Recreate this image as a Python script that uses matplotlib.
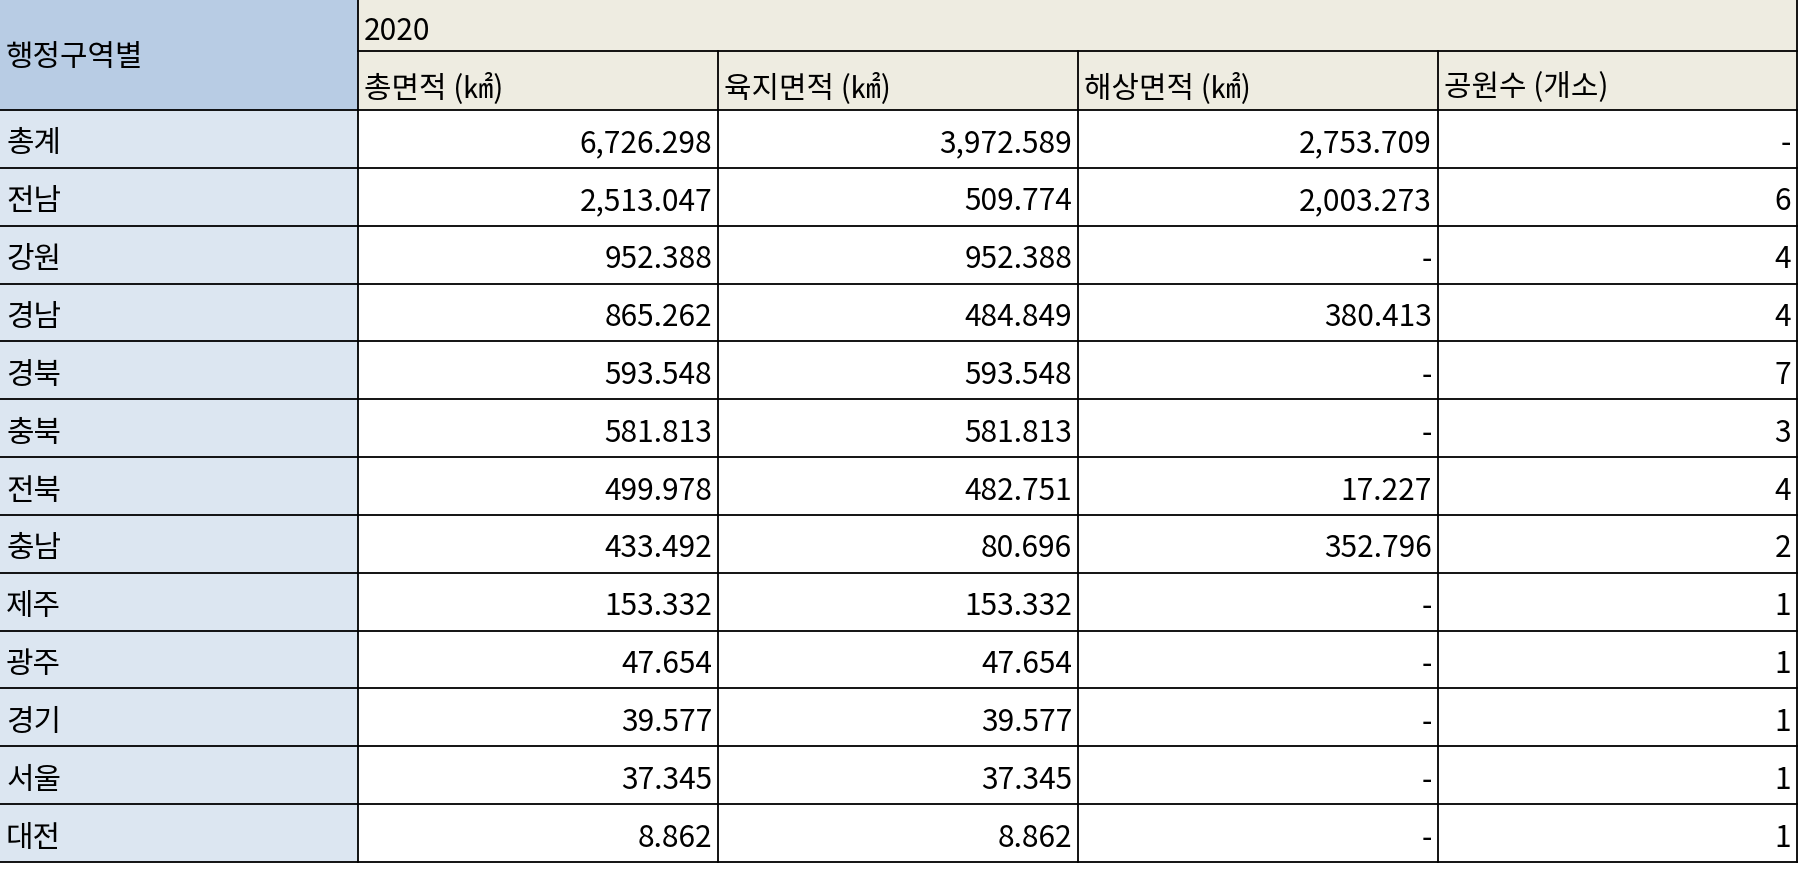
import matplotlib
matplotlib.use("Agg")
from matplotlib import pyplot as plt
from matplotlib.patches import Rectangle

plt.rcParams["font.family"] = "Noto Sans CJK KR"

regions = ["총계", "전남", "강원", "경남", "경북", "충북", "전북", "충남", "제주", "광주", "경기", "서울", "대전"]
total_area = ["6,726.298", "2,513.047", "952.388", "865.262", "593.548", "581.813", "499.978",
              "433.492", "153.332", "47.654", "39.577", "37.345", "8.862"]
land_area = ["3,972.589", "509.774", "952.388", "484.849", "593.548", "581.813", "482.751",
             "80.696", "153.332", "47.654", "39.577", "37.345", "8.862"]
sea_area = ["2,753.709", "2,003.273", "-", "380.413", "-", "-", "17.227",
            "352.796", "-", "-", "-", "-", "-"]
parks = ["-", "6", "4", "4", "7", "3", "4", "2", "1", "1", "1", "1", "1"]
headers = ["총면적 (㎢)", "육지면적 (㎢)", "해상면적 (㎢)", "공원수 (개소)"]
year = "2020"
stub_title = "행정구역별"

W, H = 1809, 882
col_x = [0, 358, 718, 1078, 1438, 1797]
row_y = [0, 51, 110]
row_h = (862 - 110) / len(regions)
for i in range(len(regions)):
    row_y.append(110 + (i + 1) * row_h)

fig = plt.figure(figsize=(W / 100, H / 100), dpi=100)
ax = fig.add_axes([0, 0, 1, 1])
ax.set_xlim(0, W)
ax.set_ylim(H, 0)
ax.axis("off")

fs = 21.5
dy = 5  # text sits a little low in its cell
# header backgrounds
ax.add_patch(Rectangle((0, 0), col_x[1], row_y[2], color="#b8cce4", lw=0))
ax.add_patch(Rectangle((col_x[1], 0), col_x[-1] - col_x[1], row_y[2], color="#eeece1", lw=0))
ax.add_patch(Rectangle((0, row_y[2]), col_x[1], row_y[-1] - row_y[2], color="#dce6f1", lw=0))

ax.text(6, 52 + dy, stub_title, fontsize=fs, va="center", ha="left")
ax.text(col_x[1] + 6, 26 + dy, year, fontsize=fs, va="center", ha="left")
for j, h in enumerate(headers):
    ax.text(col_x[j + 1] + 6, 83 + dy, h, fontsize=fs, va="center", ha="left")

cols = [total_area, land_area, sea_area, parks]
for i, r in enumerate(regions):
    yc = (row_y[i + 2] + row_y[i + 3]) / 2 + dy
    ax.text(6, yc, r, fontsize=fs, va="center", ha="left")
    for j, col in enumerate(cols):
        ax.text(col_x[j + 2] - 6, yc, col[i], fontsize=fs, va="center", ha="right")

# grid lines
lw = 1.3
ax.plot([col_x[1], col_x[-1]], [row_y[1], row_y[1]], color="black", lw=lw)
for y in row_y[2:]:
    ax.plot([0, col_x[-1]], [y, y], color="black", lw=lw)
ax.plot([col_x[1], col_x[1]], [0, row_y[-1]], color="black", lw=lw)
ax.plot([col_x[-1], col_x[-1]], [0, row_y[-1]], color="black", lw=lw)
for x in col_x[2:-1]:
    ax.plot([x, x], [row_y[1], row_y[-1]], color="black", lw=lw)

fig.savefig("out.png", dpi=100)
